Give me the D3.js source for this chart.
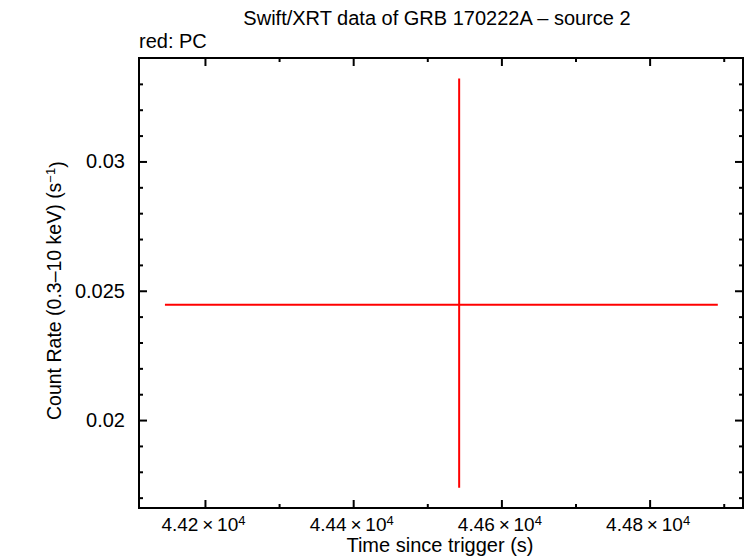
<!DOCTYPE html>
<html>
<head>
<meta charset="utf-8">
<script src="https://cdn.jsdelivr.net/npm/d3@7"></script>
<style>
  body { margin: 0; background: #fff; }
  svg text { font-family: "Liberation Sans", Arial, sans-serif; fill: #000; }
</style>
</head>
<body>
<svg id="chart" width="746" height="558"></svg>
<script>
// data
const times = [44543];
const timeNeg = [397];
const timePos = [349];
const rates = [0.02446];
const rateNeg = [0.00708];
const ratePos = [0.00875];

const xMajor = [44200, 44400, 44600, 44800];
const xMinor = [44300, 44500, 44700, 44900];
const yMajor = [0.02, 0.025, 0.03];
const yMinor = [0.017, 0.018, 0.019, 0.021, 0.022, 0.023, 0.024, 0.026, 0.027, 0.028, 0.029, 0.031, 0.032, 0.033];

const width = 746, height = 558,
    margin = { top: 58, right: 3, bottom: 50, left: 139 };

const svg = d3.select("#chart");

const x = d3.scaleLinear()
    .domain([44111, 44926])
    .range([margin.left, width - margin.right]);

const y = d3.scaleLinear()
    .domain([0.0166, 0.034])
    .range([height - margin.bottom, margin.top]);

const data = times.map((t, i) => ({
    t: t, lo: t - timeNeg[i], hi: t + timePos[i],
    r: rates[i], rlo: rates[i] - rateNeg[i], rhi: rates[i] + ratePos[i]
}));

function tickStyle(g) {
    g.select(".domain").remove();
    g.selectAll(".tick line").attr("stroke", "#000").attr("stroke-width", 2);
}

// bottom axis (inward ticks)
svg.append("g")
    .attr("transform", `translate(0,${height - margin.bottom})`)
    .call(d3.axisBottom(x).tickValues(xMajor).tickSize(-8).tickFormat(""))
    .call(tickStyle)
    .call(g => g.selectAll(".tick text").each(function (d) {
        const t = d3.select(this)
            .attr("y", 22.5).attr("dy", null).attr("x", -2)
            .style("font-size", "19px");
        t.append("tspan").text((d / 1e4).toFixed(2) + "\u2009×\u200910");
        t.append("tspan").attr("dy", "-0.45em").style("font-size", "13px").text("4");
    }));
svg.append("g")
    .attr("transform", `translate(0,${height - margin.bottom})`)
    .call(d3.axisBottom(x).tickValues(xMinor).tickSize(-4).tickFormat(""))
    .call(tickStyle);

// top axis
svg.append("g")
    .attr("transform", `translate(0,${margin.top})`)
    .call(d3.axisTop(x).tickValues(xMajor).tickSize(-8).tickFormat(""))
    .call(tickStyle);
svg.append("g")
    .attr("transform", `translate(0,${margin.top})`)
    .call(d3.axisTop(x).tickValues(xMinor).tickSize(-4).tickFormat(""))
    .call(tickStyle);

// left axis
svg.append("g")
    .attr("transform", `translate(${margin.left},0)`)
    .call(d3.axisLeft(y).tickValues(yMajor).tickSize(-8).tickPadding(14).tickFormat(d3.format("")))
    .call(tickStyle)
    .call(g => g.selectAll(".tick text").style("font-size", "20px"));
svg.append("g")
    .attr("transform", `translate(${margin.left},0)`)
    .call(d3.axisLeft(y).tickValues(yMinor).tickSize(-4).tickFormat(""))
    .call(tickStyle);

// right axis
svg.append("g")
    .attr("transform", `translate(${width - margin.right},0)`)
    .call(d3.axisRight(y).tickValues(yMajor).tickSize(-8).tickFormat(""))
    .call(tickStyle);
svg.append("g")
    .attr("transform", `translate(${width - margin.right},0)`)
    .call(d3.axisRight(y).tickValues(yMinor).tickSize(-4).tickFormat(""))
    .call(tickStyle);

// frame
svg.append("rect")
    .attr("x", margin.left)
    .attr("y", margin.top)
    .attr("width", width - margin.right - margin.left)
    .attr("height", height - margin.bottom - margin.top)
    .attr("fill", "none")
    .attr("stroke", "#000")
    .attr("stroke-width", 2);

// error bars
const pts = svg.append("g").selectAll("g").data(data).join("g");
pts.append("line")
    .attr("x1", d => x(d.lo)).attr("x2", d => x(d.hi))
    .attr("y1", d => y(d.r)).attr("y2", d => y(d.r))
    .attr("stroke", "#ff0000").attr("stroke-width", 2);
pts.append("line")
    .attr("x1", d => x(d.t)).attr("x2", d => x(d.t))
    .attr("y1", d => y(d.rlo)).attr("y2", d => y(d.rhi))
    .attr("stroke", "#ff0000").attr("stroke-width", 2);

// titles
svg.append("text")
    .attr("x", 437).attr("y", 25)
    .attr("text-anchor", "middle")
    .style("font-size", "20px")
    .text("Swift/XRT data of GRB 170222A \u2013 source 2");

svg.append("text")
    .attr("x", 139).attr("y", 48)
    .style("font-size", "20px")
    .text("red: PC");

svg.append("text")
    .attr("x", 440).attr("y", 552)
    .attr("text-anchor", "middle")
    .style("font-size", "20px")
    .text("Time since trigger (s)");

const yl = svg.append("text")
    .attr("transform", "translate(61,420) rotate(-90)")
    .attr("text-anchor", "start")
    .style("font-size", "19.5px");
yl.append("tspan").text("Count Rate (0.3\u201310 keV) (s");
yl.append("tspan").attr("dy", "-0.45em").style("font-size", "13px").text("\u22121");
yl.append("tspan").attr("dy", "0.45em").text(")");
</script>
</body>
</html>
